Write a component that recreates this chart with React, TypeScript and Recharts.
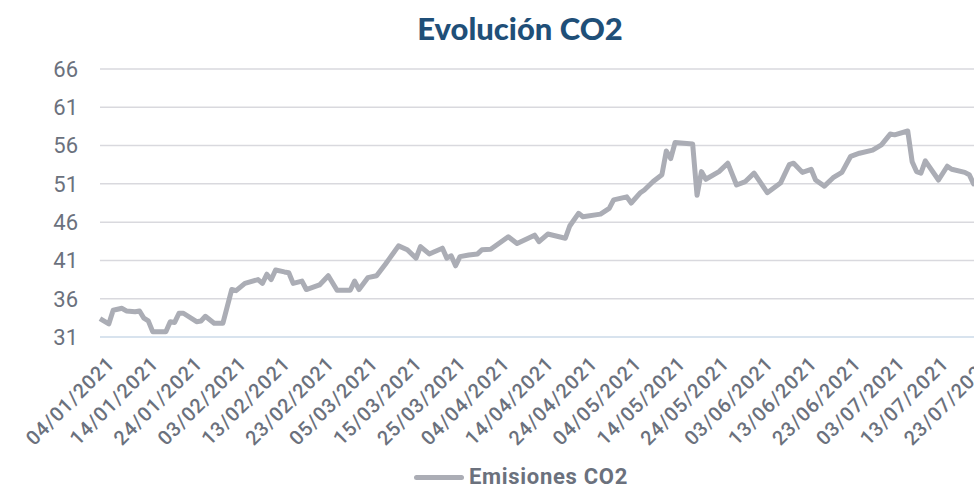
import React from 'react';
import { CartesianGrid, Legend, Line, LineChart, XAxis, YAxis } from 'recharts';

// fechas y precio del CO2 (vértices de la línea)
const fechas = [
  '04/01/2021', '06/01/2021', '07/01/2021', '09/01/2021', '10/01/2021', '12/01/2021',
  '13/01/2021', '14/01/2021', '15/01/2021', '16/01/2021', '19/01/2021', '20/01/2021',
  '21/01/2021', '22/01/2021', '23/01/2021', '26/01/2021', '27/01/2021', '28/01/2021',
  '30/01/2021', '01/02/2021', '03/02/2021', '04/02/2021', '06/02/2021', '09/02/2021',
  '10/02/2021', '11/02/2021', '12/02/2021', '13/02/2021', '15/02/2021', '16/02/2021',
  '17/02/2021', '19/02/2021', '20/02/2021', '23/02/2021', '25/02/2021', '27/02/2021',
  '02/03/2021', '03/03/2021', '04/03/2021', '06/03/2021', '08/03/2021', '10/03/2021',
  '11/03/2021', '13/03/2021', '15/03/2021', '17/03/2021', '18/03/2021', '20/03/2021',
  '23/03/2021', '24/03/2021', '25/03/2021', '26/03/2021', '27/03/2021', '29/03/2021',
  '31/03/2021', '01/04/2021', '03/04/2021', '07/04/2021', '09/04/2021', '13/04/2021',
  '14/04/2021', '16/04/2021', '20/04/2021', '21/04/2021', '23/04/2021', '24/04/2021',
  '28/04/2021', '30/04/2021', '01/05/2021', '04/05/2021', '05/05/2021', '07/05/2021',
  '08/05/2021', '10/05/2021', '12/05/2021', '13/05/2021', '14/05/2021', '15/05/2021',
  '19/05/2021', '20/05/2021', '21/05/2021', '22/05/2021', '25/05/2021', '27/05/2021',
  '29/05/2021', '31/05/2021', '02/06/2021', '05/06/2021', '08/06/2021', '09/06/2021',
  '10/06/2021', '11/06/2021', '13/06/2021', '15/06/2021', '16/06/2021', '18/06/2021',
  '20/06/2021', '22/06/2021', '24/06/2021', '26/06/2021', '29/06/2021', '01/07/2021',
  '03/07/2021', '04/07/2021', '07/07/2021', '08/07/2021', '09/07/2021', '10/07/2021',
  '11/07/2021', '14/07/2021', '16/07/2021', '17/07/2021', '20/07/2021', '21/07/2021',
  '22/07/2021', '23/07/2021',
];

const emisiones = [
  33.4, 32.7, 34.5, 34.75, 34.4, 34.3,
  34.4, 33.45, 33.1, 31.7, 31.7, 33.0,
  32.9, 34.1, 34.1, 33.0, 33.1, 33.7,
  32.8, 32.8, 37.2, 37.05, 38.0, 38.5,
  38.0, 39.2, 38.5, 39.75, 39.5, 39.4,
  38.0, 38.3, 37.2, 37.8, 39.0, 37.1,
  37.1, 38.3, 37.2, 38.75, 39.0, 40.5,
  41.3, 42.9, 42.4, 41.3, 42.8, 41.85,
  42.6, 41.3, 41.6, 40.3, 41.5, 41.7,
  41.85, 42.4, 42.45, 44.1, 43.2, 44.3,
  43.45, 44.45, 43.9, 45.5, 47.15, 46.7,
  47.05, 47.8, 48.9, 49.3, 48.5, 49.8,
  50.2, 51.3, 52.2, 55.3, 54.3, 56.4,
  56.2, 49.5, 52.6, 51.6, 52.6, 53.7,
  50.85, 51.3, 52.4, 49.85, 51.1, 52.3,
  53.5, 53.7, 52.5, 52.9, 51.5, 50.7,
  51.8, 52.5, 54.6, 55.0, 55.4, 56.1,
  57.5, 57.4, 57.9, 53.9, 52.6, 52.4,
  54.0, 51.5, 53.3, 52.9, 52.5, 52.2,
  51.0, 51.5,
];

const etiquetasEje = [
  '04/01/2021', '14/01/2021', '24/01/2021', '03/02/2021', '13/02/2021', '23/02/2021',
  '05/03/2021', '15/03/2021', '25/03/2021', '04/04/2021', '14/04/2021', '24/04/2021',
  '04/05/2021', '14/05/2021', '24/05/2021', '03/06/2021', '13/06/2021', '23/06/2021',
  '03/07/2021', '13/07/2021', '23/07/2021',
];

const valoresEjeY = [31, 36, 41, 46, 51, 56, 61, 66];

const DAY_MS = 24 * 60 * 60 * 1000;

const toDay = (fecha: string): number => {
  const [d, m, y] = fecha.split('/').map((s) => parseInt(s, 10));
  return Math.round(Date.UTC(y, m - 1, d) / DAY_MS);
};

const dia0 = toDay(etiquetasEje[0]);
const ticksX = etiquetasEje.map((f) => toDay(f) - dia0);
const labelByDay = new Map(etiquetasEje.map((f) => [toDay(f) - dia0, f]));

const data = fechas.map((fecha, i) => ({
  dia: toDay(fecha) - dia0,
  fecha,
  co2: emisiones[i],
}));

const TICK_COLOR = '#6b717d';
const LINE_COLOR = '#abadb5';

const DateTick = (props: any) => {
  const { x, y, payload } = props;
  return (
    <g transform={`translate(${x + 6},${y + 10})`}>
      <text
        x={0}
        y={0}
        dy={14}
        textAnchor="end"
        transform="rotate(-45)"
        fill={TICK_COLOR}
        fontSize={20}
        fontWeight={500}
        letterSpacing={0.9}
        fontFamily="Roboto, sans-serif"
      >
        {labelByDay.get(payload.value) ?? ''}
      </text>
    </g>
  );
};

const LegendContent = () => (
  <div
    style={{
      display: 'flex',
      justifyContent: 'center',
      alignItems: 'center',
      paddingLeft: 64,
      paddingTop: 16,
      fontFamily: 'Roboto, sans-serif',
    }}
  >
    <span
      style={{
        display: 'inline-block',
        width: 50,
        height: 5,
        borderRadius: 3,
        background: LINE_COLOR,
        marginRight: 5,
      }}
    />
    <span style={{ fontSize: 22, fontWeight: 700, color: '#6b717d', letterSpacing: 0.7, lineHeight: '24px' }}>
      Emisiones CO2
    </span>
  </div>
);

export default function App() {
  return (
    <div
      style={{
        position: 'fixed',
        left: 0,
        top: 0,
        width: 974,
        height: 489,
        overflow: 'hidden',
        background: '#ffffff',
      }}
    >
      <div
        style={{
          position: 'absolute',
          top: 9,
          left: 0,
          width: 1040,
          textAlign: 'center',
          fontFamily: 'Lato, sans-serif',
          fontWeight: 900,
          fontSize: 31,
          color: '#1f4f78',
        }}
      >
        Evolución CO2
      </div>
      <LineChart
        width={1000}
        height={489}
        data={data}
        margin={{ top: 69, right: 22, left: 0, bottom: 0 }}
      >
        <CartesianGrid vertical={false} stroke="#d9d9de" strokeWidth={1.5} />
        <XAxis
          dataKey="dia"
          type="number"
          domain={[0, 200]}
          ticks={ticksX}
          interval={0}
          tick={<DateTick />}
          tickLine={false}
          axisLine={{ stroke: '#d5e3f1', strokeWidth: 1.5 }}
          height={112}
        />
        <YAxis
          domain={[31, 66]}
          ticks={valoresEjeY}
          width={100}
          tickLine={false}
          axisLine={false}
          tickSize={6}
          tickMargin={16}
          tick={{ fill: TICK_COLOR, fontSize: 22, fontFamily: 'Roboto, sans-serif' }}
        />
        <Legend verticalAlign="bottom" height={40} content={<LegendContent />} />
        <Line
          type="linear"
          dataKey="co2"
          name="Emisiones CO2"
          stroke={LINE_COLOR}
          strokeWidth={5}
          strokeLinejoin="round"
          dot={false}
          isAnimationActive={false}
        />
      </LineChart>
    </div>
  );
}
